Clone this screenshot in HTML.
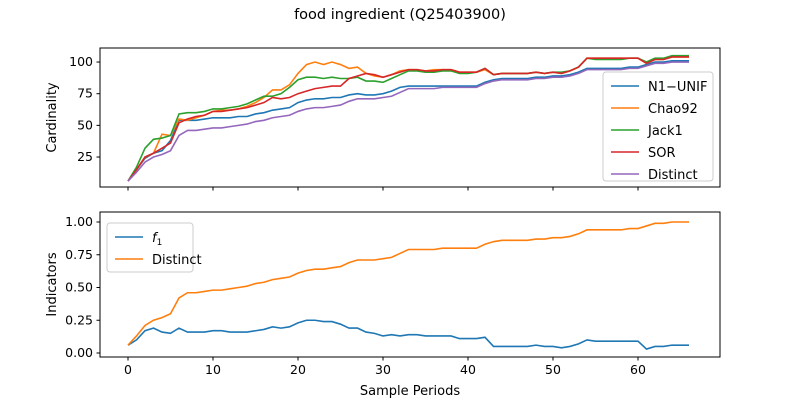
<!DOCTYPE html>
<html><head><meta charset="utf-8"><style>
body{margin:0;background:#fff;font-family:"Liberation Sans","DejaVu Sans",sans-serif}
svg text{font-family:"DejaVu Sans","Liberation Sans",sans-serif}
</style></head><body>
<svg id="c" width="800" height="400" xmlns="http://www.w3.org/2000/svg"></svg>
<script>
const periods=[...Array(67).keys()];
const distinct=[6,13,21,25,27,30,42,46,46,47,48,48,49,50,51,53,54,56,57,58,61,63,64,64,65,66,69,71,71,71,72,73,76,79,79,79,79,80,80,80,80,80,83,85,86,86,86,86,87,87,88,88,89,91,94,94,94,94,94,95,95,97,99,99,100,100,100];
const n1unif=[6,15,24,28,30,38,54,54,54,55,56,56,56,57,57,59,60,62,63,64,68,70,71,71,72,72,74,75,74,74,75,77,80,81,81,81,81,81,81,81,81,81,84,86,87,87,87,87,88,88,89,89,90,92,95,95,95,95,95,96,96,98,100,100,101,101,101];
const jack1=[6,17,32,39,40,42,59,60,60,61,63,63,64,65,67,70,73,73,75,80,86,88,88,87,88,87,87,88,85,85,84,87,90,93,93,92,92,93,93,91,91,92,95,90,91,91,91,91,92,91,92,92,93,96,103,102,102,102,102,103,103,100,103,103,105,105,105];
const chao92=[6,15,25,28,43,42,55,54,56,58,61,62,62,63,65,68,72,78,78,82,91,98,100,98,100,98,95,96,91,89,88,90,93,94,94,93,94,94,94,92,92,92,94,90,91,91,91,91,92,91,92,91,93,96,103,103,103,103,103,103,103,99,102,102,104,104,104];
const sor=[6,15,25,28,32,36,52,55,57,58,61,61,62,63,64,66,68,72,71,72,75,77,79,80,81,81,87,89,91,90,88,90,92,94,94,93,93,94,94,92,92,92,95,90,91,91,91,91,92,91,92,91,93,96,103,103,103,103,103,103,103,99,102,102,104,104,104];
const f1=[.06,.10,.17,.19,.16,.15,.19,.16,.16,.16,.17,.17,.16,.16,.16,.17,.18,.20,.19,.20,.23,.25,.25,.24,.24,.22,.19,.19,.16,.15,.13,.14,.13,.14,.14,.13,.13,.13,.13,.11,.11,.11,.12,.05,.05,.05,.05,.05,.06,.05,.05,.04,.05,.07,.10,.09,.09,.09,.09,.09,.09,.03,.05,.05,.06,.06,.06];
const xTicks=[0,10,20,30,40,50,60];
const topTicks=[25,50,75,100];
const botTicks=[0,0.25,0.5,0.75,1.0];
const botTickLabels=["0.00","0.25","0.50","0.75","1.00"];
const NS="http://www.w3.org/2000/svg",svg=document.getElementById('c');
function el(t,a,txt,parent){const e=document.createElementNS(NS,t);for(const k in a)e.setAttribute(k,a[k]);if(txt!==undefined)e.textContent=txt;(parent||svg).appendChild(e);return e;}
const X=v=>128+v*8.5;
const Yt=v=>188.7-v*1.2667;
const Yb=v=>353-v*131;
const t=el('text',{x:400,y:19,'text-anchor':'middle','font-size':14.5},'food ingredient (Q25403900)');


function axes(y0,y1,Y,ticks,labels,name,ylabel,showX){
  const r=el('rect',{x:100,y:y0,width:620,height:y1-y0,fill:'none',stroke:'#000','stroke-width':1});
  
  
  ticks.forEach((v,i)=>{const y=Y(v);el('line',{x1:96.5,x2:100,y1:y,y2:y,stroke:'#000'});
    const l=el('text',{x:93,y:y+4,'text-anchor':'end','font-size':12.5},labels[i]);
    
    });
  xTicks.forEach(v=>{el('line',{x1:X(v),x2:X(v),y1:y1,y2:y1+3.5,stroke:'#000'});
    if(showX){const l=el('text',{x:X(v),y:y1+17,'text-anchor':'middle','font-size':12.5},v);
    
    }});
  const yl=el('text',{transform:`translate(56,${(y0+y1)/2}) rotate(-90)`,'text-anchor':'middle','font-size':13},ylabel);
  
  
}
axes(48,187,Yt,topTicks,topTicks.map(String),'top','Cardinality',false);
axes(212,357,Yb,botTicks,botTickLabels,'bottom','Indicators',true);
const xt=el('text',{x:410,y:395,'text-anchor':'middle','font-size':13},'Sample Periods');


function line(arr,Y,col,name){const p=el('polyline',{points:arr.map((v,i)=>X(periods[i])+','+Y(v)).join(' '),fill:'none',stroke:col,'stroke-width':1.6});
  
  }
line(n1unif,Yt,'#1f77b4','n1-unif-line');
line(chao92,Yt,'#ff7f0e','chao92-line');
line(jack1,Yt,'#2ca02c','jack1-line');
line(sor,Yt,'#d62728','sor-line');
line(distinct,Yt,'#9467bd','distinct-line');
line(f1,Yb,'#1f77b4','f1-line');
line(distinct.map(v=>v/100),Yb,'#ff7f0e','distinct-ratio-line');
function legend(x,y,w,h,items,name){
  const r=el('rect',{x:x,y:y,width:w,height:h,rx:3,fill:'#fff','fill-opacity':0.8,stroke:'#ccc'});
  
  
  items.forEach((it,i)=>{const yy=y+14+i*22;
    el('line',{x1:x+8,x2:x+36,y1:yy,y2:yy,stroke:it[1],'stroke-width':1.6});
    const tx=el('text',{x:x+45,y:yy+5,'font-size':13},it[2]?undefined:it[0]);
    if(it[2]){el('tspan',{'font-style':'italic'},'f',tx);el('tspan',{'font-size':9,dy:3},'1',tx);}
    
    });
}
legend(603,72,110,109,[['N1\u2212UNIF','#1f77b4'],['Chao92','#ff7f0e'],['Jack1','#2ca02c'],['SOR','#d62728'],['Distinct','#9467bd']],'top-legend');
legend(107,223,86,49,[['f1','#1f77b4',true],['Distinct','#ff7f0e']],'bottom-legend');
</script>
</body></html>
